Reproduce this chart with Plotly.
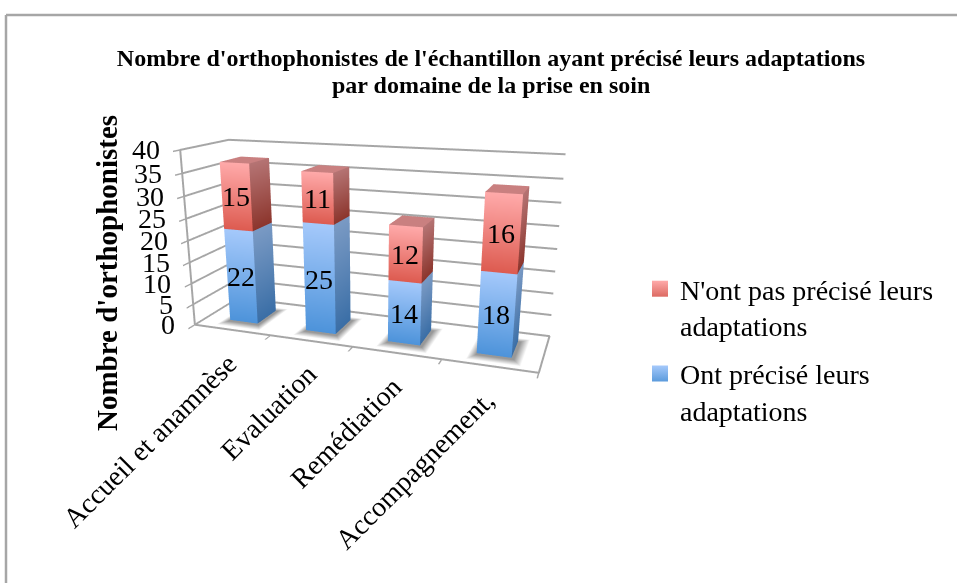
import plotly.graph_objects as go

categories = ["Accueil et anamnèse", "Evaluation", "Remédiation", "Accompagnement,"]
ont_precise = [22, 25, 14, 18]
n_ont_pas = [15, 11, 12, 16]
z_ticks = [0, 5, 10, 15, 20, 25, 30, 35, 40]

title_line1 = "Nombre d'orthophonistes de l'échantillon ayant précisé leurs adaptations"
title_line2 = "par domaine de la prise en soin"
y_title = "Nombre d'orthophonistes"
legend_red = "N'ont pas précisé leurs<br>adaptations"
legend_blue = "Ont précisé leurs<br>adaptations"

SERIF = "Liberation Serif"
GREY = "#a6a6a6"
BAR_W = 0.186
BAR_D = 0.23

BLUE = dict(front=("#a5c9fb", "#4d93da"), side=("#7a9ac4", "#3a6ea6"), top="#7a9ac4", legend=("#a5c9fb", "#5b9bdc"))
RED = dict(front=("#ffaaaa", "#dd5b50"), side=("#b57474", "#8c352c"), top="#c98080", legend=("#ffaaaa", "#dc6a62"))
FLAT = dict(ambient=1, diffuse=0, specular=0, roughness=1, fresnel=0)


def box_mesh(x0, x1, y0, y1, z0, z1, colors, verts, faces, vcolors):
    top_col, bottom_col = colors["front"]
    side_top, side_bottom = colors["side"]
    quads = [
        ([(x0, y0, z1), (x1, y0, z1), (x1, y0, z0), (x0, y0, z0)], [top_col, top_col, bottom_col, bottom_col]),
        ([(x1, y0, z1), (x1, y1, z1), (x1, y1, z0), (x1, y0, z0)], [side_top, side_top, side_bottom, side_bottom]),
        ([(x0, y0, z1), (x1, y0, z1), (x1, y1, z1), (x0, y1, z1)], [colors["top"]] * 4),
    ]
    for pts, cols in quads:
        n = len(verts)
        verts.extend(pts)
        vcolors.extend(cols)
        faces.append((n, n + 1, n + 2))
        faces.append((n, n + 2, n + 3))


def mesh_trace(verts, faces, vcolors):
    return go.Mesh3d(
        x=[v[0] for v in verts], y=[v[1] for v in verts], z=[v[2] for v in verts],
        i=[f[0] for f in faces], j=[f[1] for f in faces], k=[f[2] for f in faces],
        vertexcolor=vcolors, flatshading=True, hoverinfo="skip", showlegend=False, lighting=FLAT,
    )


def series_trace(bottoms, values, colors):
    verts, faces, vcolors = [], [], []
    for i in range(len(values)):
        cx = i + 0.5
        box_mesh(cx - BAR_W, cx + BAR_W, 0.5 - BAR_D, 0.5 + BAR_D, bottoms[i], bottoms[i] + values[i],
                 colors, verts, faces, vcolors)
    return mesh_trace(verts, faces, vcolors)


def shadow_trace():
    # soft shadow on the floor, lighter towards the outer ring
    verts, faces, vcolors = [], [], []
    for i in range(len(categories)):
        cx = i + 0.5
        x0, x1 = cx - BAR_W, cx + BAR_W + 0.03
        y0, y1 = 0.5 - BAR_D - 0.04, 0.5 + BAR_D
        ox0, ox1, oy0, oy1 = x0 - 0.08, x1 + 0.09, y0 - 0.14, y1 + 0.1
        n = len(verts)
        verts.extend([(x0, y0, 0), (x1, y0, 0), (x1, y1, 0), (x0, y1, 0),
                      (ox0, oy0, 0), (ox1, oy0, 0), (ox1, oy1, 0), (ox0, oy1, 0)])
        vcolors.extend(["#989898"] * 4 + ["#ffffff"] * 4)
        faces.extend([(n, n + 1, n + 2), (n, n + 2, n + 3)])
        for a in range(4):
            b = (a + 1) % 4
            faces.extend([(n + a, n + b, n + 4 + b), (n + a, n + 4 + b, n + 4 + a)])
    return mesh_trace(verts, faces, vcolors)


fig = go.Figure()
fig.add_trace(shadow_trace())
fig.add_trace(series_trace([0] * len(ont_precise), ont_precise, BLUE))
fig.add_trace(series_trace(ont_precise, n_ont_pas, RED))

# floor edges that the 3d axis lines do not draw
fig.add_trace(go.Scatter3d(x=[4, 4, 0], y=[0, 1, 1], z=[0, 0, 0], mode="lines", showlegend=False,
                           hoverinfo="skip", line=dict(color=GREY, width=4)))

# legend entries with the same gradient as the bars
for name, colors, group in [(legend_red, RED, "a"), (legend_blue, BLUE, "b")]:
    fig.add_trace(go.Scatter(
        x=[None], y=[None], mode="markers", name=name, legendgroup=group, hoverinfo="skip",
        marker=dict(symbol="square", size=16, color=colors["legend"][0],
                    gradient=dict(type="vertical", color=colors["legend"][1])),
    ))

label_font = dict(family=SERIF, size=28, color="black")
scene_annotations = []
for t in z_ticks:
    scene_annotations.append(dict(x=0, y=0, z=t, text=str(t), showarrow=False, xanchor="right", xshift=-18,
                                  font=label_font))
for i, cat in enumerate(categories):
    scene_annotations.append(dict(x=i + 0.5, y=0, z=0, text=cat, showarrow=False, textangle=-45,
                                  xanchor="right", yanchor="top", xshift=14, yshift=-15, font=label_font))
    scene_annotations.append(dict(x=i + 0.5, y=0.27, z=ont_precise[i] / 2, text=str(ont_precise[i]),
                                  showarrow=False, font=label_font))
    scene_annotations.append(dict(x=i + 0.5, y=0.27, z=ont_precise[i] + n_ont_pas[i] / 2, text=str(n_ont_pas[i]),
                                  showarrow=False, font=label_font))

axis_common = dict(showbackground=False, showspikes=False, title=dict(text=""), showgrid=False,
                   zeroline=False, showline=True, linecolor=GREY, linewidth=4, showticklabels=False)

fig.update_layout(
    width=957, height=583, autosize=False,
    paper_bgcolor="white", plot_bgcolor="white",
    margin=dict(l=0, r=0, t=0, b=0),
    title=dict(text=title_line1, x=491 / 957, xanchor="center", y=1 - 58 / 583, yanchor="middle",
               font=dict(family=SERIF, size=24, color="black", weight="bold")),
    xaxis=dict(visible=False), yaxis=dict(visible=False),
    scene=dict(
        domain=dict(x=[0, 0.77], y=[0, 1]),
        aspectmode="manual", aspectratio=dict(x=1.70, y=0.44, z=0.87),
        camera=dict(eye=dict(x=1.079, y=-3.047, z=0.849), center=dict(x=0, y=0, z=-0.233), up=dict(x=0, y=0, z=1),
                    projection=dict(type="perspective")),
        xaxis=dict(axis_common, range=[0, 4], tickvals=[0, 1, 2, 3, 4], ticks="outside", ticklen=6,
                   tickcolor=GREY, tickwidth=3),
        yaxis=dict(axis_common, range=[0, 1], ticks=""),
        zaxis=dict(axis_common, range=[0, 40], tickvals=z_ticks, showgrid=True, gridcolor=GREY, gridwidth=4,
                   ticks="outside", ticklen=6, tickcolor=GREY, tickwidth=3),
        annotations=scene_annotations,
    ),
    legend=dict(x=640 / 957, y=1 - 264 / 583, xanchor="left", yanchor="top", valign="top", tracegroupgap=9,
                font=dict(family=SERIF, size=28, color="black"), bgcolor="rgba(0,0,0,0)"),
    annotations=[
        dict(text=title_line2, xref="paper", yref="paper", x=491 / 957, y=1 - 85 / 583, showarrow=False,
             xanchor="center", yanchor="middle", font=dict(family=SERIF, size=24, color="black", weight="bold")),
        dict(text=y_title, xref="paper", yref="paper", x=107 / 957, y=1 - 273 / 583, textangle=-90,
             showarrow=False, xanchor="center", yanchor="middle",
             font=dict(family=SERIF, size=29, color="black", weight="bold")),
    ],
    shapes=[
        dict(type="line", xref="paper", yref="paper", x0=6 / 957, x1=1, y0=1 - 15 / 583, y1=1 - 15 / 583,
             line=dict(color=GREY, width=2.5)),
        dict(type="line", xref="paper", yref="paper", x0=6 / 957, x1=6 / 957, y0=1 - 15 / 583, y1=0,
             line=dict(color=GREY, width=2.5)),
    ],
)

# the page keeps its default 8px body margin otherwise
fig.write_html("out.html", config=dict(displayModeBar=False),
               post_script="document.body.style.margin='0';document.body.style.overflow='hidden';")
